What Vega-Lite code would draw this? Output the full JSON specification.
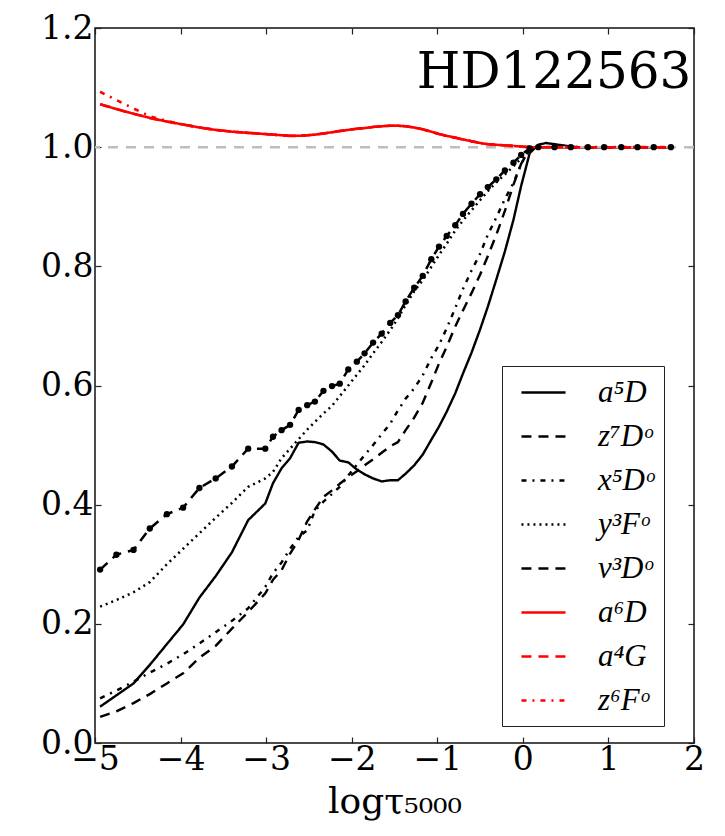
{
  "$schema": "https://vega.github.io/schema/vega-lite/v6.json",
  "width": 599,
  "height": 715,
  "autosize": {"type": "none"},
  "padding": {"left": 95, "top": 28, "right": 31, "bottom": 93},
  "background": "white",
  "config": {
    "view": {"stroke": "#111111", "strokeWidth": 1.5},
    "font": "DejaVu Serif",
    "axis": {
      "domain": false,
      "grid": false,
      "tickColor": "#222222",
      "tickWidth": 1.2,
      "tickSize": -6,
      "labelFont": "DejaVu Serif",
      "labelFontSize": 33,
      "labelColor": "black",
      "labelFlush": false,
      "labelOverlap": false,
      "titleFont": "DejaVu Serif",
      "titleFontWeight": "normal",
      "titleColor": "black"
    },
    "legend": {
      "orient": "none",
      "legendX": 407,
      "legendY": 338,
      "direction": "vertical",
      "padding": 10,
      "strokeColor": "#222222",
      "fillColor": "white",
      "cornerRadius": 0,
      "symbolType": "M-0.47,0H2.47",
      "symbolSize": 900,
      "symbolStrokeWidth": 2.6,
      "labelFont": "Liberation Serif",
      "labelFontStyle": "italic",
      "labelFontSize": 31,
      "labelColor": "black",
      "labelOffset": 53,
      "rowPadding": 12
    }
  },
  "datasets": {
    "profiles": [
      {"t": -4.94, "a5D": 0.061, "z7Do": 0.044, "x5Do": 0.075, "y3Fo": 0.229, "v3Do": 0.291, "a6D": 1.072, "a4G": 1.072, "z6Fo": 1.093},
      {"t": -4.75, "a5D": 0.080, "z7Do": 0.053, "x5Do": 0.088, "y3Fo": 0.240, "v3Do": 0.316, "a6D": 1.064, "a4G": 1.064, "z6Fo": 1.079},
      {"t": -4.55, "a5D": 0.100, "z7Do": 0.067, "x5Do": 0.103, "y3Fo": 0.253, "v3Do": 0.324, "a6D": 1.056, "a4G": 1.056, "z6Fo": 1.065},
      {"t": -4.36, "a5D": 0.131, "z7Do": 0.082, "x5Do": 0.118, "y3Fo": 0.270, "v3Do": 0.360, "a6D": 1.049, "a4G": 1.049, "z6Fo": 1.052},
      {"t": -4.16, "a5D": 0.166, "z7Do": 0.100, "x5Do": 0.133, "y3Fo": 0.300, "v3Do": 0.384, "a6D": 1.043, "a4G": 1.043, "z6Fo": 1.044},
      {"t": -3.97, "a5D": 0.199, "z7Do": 0.117, "x5Do": 0.149, "y3Fo": 0.326, "v3Do": 0.395, "a6D": 1.038, "a4G": 1.038, "z6Fo": 1.038},
      {"t": -3.78, "a5D": 0.244, "z7Do": 0.143, "x5Do": 0.167, "y3Fo": 0.352, "v3Do": 0.428, "a6D": 1.033, "a4G": 1.033, "z6Fo": 1.033},
      {"t": -3.59, "a5D": 0.280, "z7Do": 0.163, "x5Do": 0.186, "y3Fo": 0.378, "v3Do": 0.444, "a6D": 1.029, "a4G": 1.029, "z6Fo": 1.029},
      {"t": -3.40, "a5D": 0.320, "z7Do": 0.192, "x5Do": 0.205, "y3Fo": 0.403, "v3Do": 0.464, "a6D": 1.026, "a4G": 1.026, "z6Fo": 1.026},
      {"t": -3.21, "a5D": 0.374, "z7Do": 0.220, "x5Do": 0.226, "y3Fo": 0.430, "v3Do": 0.494, "a6D": 1.024, "a4G": 1.024, "z6Fo": 1.024},
      {"t": -3.01, "a5D": 0.402, "z7Do": 0.251, "x5Do": 0.262, "y3Fo": 0.444, "v3Do": 0.494, "a6D": 1.022, "a4G": 1.022, "z6Fo": 1.022},
      {"t": -2.92, "a5D": 0.436, "z7Do": 0.274, "x5Do": 0.285, "y3Fo": 0.455, "v3Do": 0.514, "a6D": 1.021, "a4G": 1.021, "z6Fo": 1.021},
      {"t": -2.82, "a5D": 0.461, "z7Do": 0.290, "x5Do": 0.303, "y3Fo": 0.478, "v3Do": 0.525, "a6D": 1.020, "a4G": 1.020, "z6Fo": 1.020},
      {"t": -2.72, "a5D": 0.478, "z7Do": 0.318, "x5Do": 0.326, "y3Fo": 0.494, "v3Do": 0.534, "a6D": 1.019, "a4G": 1.019, "z6Fo": 1.019},
      {"t": -2.62, "a5D": 0.504, "z7Do": 0.341, "x5Do": 0.346, "y3Fo": 0.510, "v3Do": 0.559, "a6D": 1.019, "a4G": 1.019, "z6Fo": 1.019},
      {"t": -2.52, "a5D": 0.506, "z7Do": 0.372, "x5Do": 0.357, "y3Fo": 0.526, "v3Do": 0.567, "a6D": 1.020, "a4G": 1.020, "z6Fo": 1.020},
      {"t": -2.43, "a5D": 0.505, "z7Do": 0.392, "x5Do": 0.390, "y3Fo": 0.539, "v3Do": 0.573, "a6D": 1.021, "a4G": 1.021, "z6Fo": 1.021},
      {"t": -2.33, "a5D": 0.501, "z7Do": 0.413, "x5Do": 0.405, "y3Fo": 0.553, "v3Do": 0.591, "a6D": 1.023, "a4G": 1.023, "z6Fo": 1.023},
      {"t": -2.23, "a5D": 0.489, "z7Do": 0.424, "x5Do": 0.418, "y3Fo": 0.566, "v3Do": 0.599, "a6D": 1.025, "a4G": 1.025, "z6Fo": 1.025},
      {"t": -2.14, "a5D": 0.474, "z7Do": 0.435, "x5Do": 0.430, "y3Fo": 0.582, "v3Do": 0.603, "a6D": 1.027, "a4G": 1.027, "z6Fo": 1.027},
      {"t": -2.04, "a5D": 0.471, "z7Do": 0.446, "x5Do": 0.449, "y3Fo": 0.600, "v3Do": 0.627, "a6D": 1.029, "a4G": 1.029, "z6Fo": 1.029},
      {"t": -1.94, "a5D": 0.459, "z7Do": 0.456, "x5Do": 0.467, "y3Fo": 0.618, "v3Do": 0.640, "a6D": 1.031, "a4G": 1.031, "z6Fo": 1.031},
      {"t": -1.85, "a5D": 0.451, "z7Do": 0.466, "x5Do": 0.483, "y3Fo": 0.634, "v3Do": 0.654, "a6D": 1.032, "a4G": 1.032, "z6Fo": 1.032},
      {"t": -1.75, "a5D": 0.444, "z7Do": 0.476, "x5Do": 0.500, "y3Fo": 0.654, "v3Do": 0.672, "a6D": 1.034, "a4G": 1.034, "z6Fo": 1.034},
      {"t": -1.65, "a5D": 0.439, "z7Do": 0.487, "x5Do": 0.518, "y3Fo": 0.673, "v3Do": 0.687, "a6D": 1.035, "a4G": 1.035, "z6Fo": 1.035},
      {"t": -1.55, "a5D": 0.441, "z7Do": 0.498, "x5Do": 0.536, "y3Fo": 0.693, "v3Do": 0.705, "a6D": 1.036, "a4G": 1.036, "z6Fo": 1.036},
      {"t": -1.46, "a5D": 0.441, "z7Do": 0.505, "x5Do": 0.558, "y3Fo": 0.713, "v3Do": 0.718, "a6D": 1.036, "a4G": 1.036, "z6Fo": 1.036},
      {"t": -1.37, "a5D": 0.452, "z7Do": 0.525, "x5Do": 0.578, "y3Fo": 0.735, "v3Do": 0.741, "a6D": 1.035, "a4G": 1.035, "z6Fo": 1.035},
      {"t": -1.27, "a5D": 0.466, "z7Do": 0.546, "x5Do": 0.595, "y3Fo": 0.758, "v3Do": 0.764, "a6D": 1.033, "a4G": 1.033, "z6Fo": 1.033},
      {"t": -1.17, "a5D": 0.484, "z7Do": 0.571, "x5Do": 0.617, "y3Fo": 0.777, "v3Do": 0.784, "a6D": 1.030, "a4G": 1.030, "z6Fo": 1.030},
      {"t": -1.07, "a5D": 0.509, "z7Do": 0.605, "x5Do": 0.646, "y3Fo": 0.799, "v3Do": 0.812, "a6D": 1.026, "a4G": 1.026, "z6Fo": 1.026},
      {"t": -0.98, "a5D": 0.531, "z7Do": 0.637, "x5Do": 0.668, "y3Fo": 0.819, "v3Do": 0.833, "a6D": 1.022, "a4G": 1.022, "z6Fo": 1.022},
      {"t": -0.89, "a5D": 0.556, "z7Do": 0.665, "x5Do": 0.696, "y3Fo": 0.838, "v3Do": 0.851, "a6D": 1.019, "a4G": 1.019, "z6Fo": 1.019},
      {"t": -0.79, "a5D": 0.587, "z7Do": 0.699, "x5Do": 0.730, "y3Fo": 0.860, "v3Do": 0.869, "a6D": 1.016, "a4G": 1.016, "z6Fo": 1.016},
      {"t": -0.70, "a5D": 0.620, "z7Do": 0.726, "x5Do": 0.762, "y3Fo": 0.877, "v3Do": 0.888, "a6D": 1.013, "a4G": 1.013, "z6Fo": 1.013},
      {"t": -0.60, "a5D": 0.655, "z7Do": 0.755, "x5Do": 0.793, "y3Fo": 0.894, "v3Do": 0.905, "a6D": 1.010, "a4G": 1.010, "z6Fo": 1.010},
      {"t": -0.50, "a5D": 0.694, "z7Do": 0.786, "x5Do": 0.821, "y3Fo": 0.911, "v3Do": 0.921, "a6D": 1.007, "a4G": 1.007, "z6Fo": 1.007},
      {"t": -0.41, "a5D": 0.732, "z7Do": 0.817, "x5Do": 0.853, "y3Fo": 0.926, "v3Do": 0.933, "a6D": 1.005, "a4G": 1.005, "z6Fo": 1.005},
      {"t": -0.31, "a5D": 0.778, "z7Do": 0.853, "x5Do": 0.882, "y3Fo": 0.941, "v3Do": 0.946, "a6D": 1.004, "a4G": 1.004, "z6Fo": 1.004},
      {"t": -0.21, "a5D": 0.825, "z7Do": 0.893, "x5Do": 0.913, "y3Fo": 0.954, "v3Do": 0.961, "a6D": 1.003, "a4G": 1.003, "z6Fo": 1.003},
      {"t": -0.11, "a5D": 0.878, "z7Do": 0.937, "x5Do": 0.940, "y3Fo": 0.968, "v3Do": 0.974, "a6D": 1.002, "a4G": 1.002, "z6Fo": 1.002},
      {"t": -0.02, "a5D": 0.935, "z7Do": 0.972, "x5Do": 0.972, "y3Fo": 0.981, "v3Do": 0.987, "a6D": 1.001, "a4G": 1.001, "z6Fo": 1.001},
      {"t": 0.08, "a5D": 0.990, "z7Do": 0.997, "x5Do": 0.997, "y3Fo": 0.995, "v3Do": 0.998, "a6D": 1.000, "a4G": 1.000, "z6Fo": 1.000},
      {"t": 0.18, "a5D": 1.004, "z7Do": 1.000, "x5Do": 1.000, "y3Fo": 1.000, "v3Do": 1.000, "a6D": 1.000, "a4G": 1.000, "z6Fo": 1.000},
      {"t": 0.27, "a5D": 1.007, "z7Do": 1.000, "x5Do": 1.000, "y3Fo": 1.000, "v3Do": 1.000, "a6D": 1.000, "a4G": 1.000, "z6Fo": 1.000},
      {"t": 0.37, "a5D": 1.005, "z7Do": 1.000, "x5Do": 1.000, "y3Fo": 1.000, "v3Do": 1.000, "a6D": 1.000, "a4G": 1.000, "z6Fo": 1.000},
      {"t": 0.47, "a5D": 1.003, "z7Do": 1.000, "x5Do": 1.000, "y3Fo": 1.000, "v3Do": 1.000, "a6D": 1.000, "a4G": 1.000, "z6Fo": 1.000},
      {"t": 0.56, "a5D": 1.001, "z7Do": 1.000, "x5Do": 1.000, "y3Fo": 1.000, "v3Do": 1.000, "a6D": 1.000, "a4G": 1.000, "z6Fo": 1.000},
      {"t": 0.66, "a5D": 1.000, "z7Do": 1.000, "x5Do": 1.000, "y3Fo": 1.000, "v3Do": 1.000, "a6D": 1.000, "a4G": 1.000, "z6Fo": 1.000},
      {"t": 0.76, "a5D": 1.000, "z7Do": 1.000, "x5Do": 1.000, "y3Fo": 1.000, "v3Do": 1.000, "a6D": 1.000, "a4G": 1.000, "z6Fo": 1.000},
      {"t": 0.86, "a5D": 1.000, "z7Do": 1.000, "x5Do": 1.000, "y3Fo": 1.000, "v3Do": 1.000, "a6D": 1.000, "a4G": 1.000, "z6Fo": 1.000},
      {"t": 0.95, "a5D": 1.000, "z7Do": 1.000, "x5Do": 1.000, "y3Fo": 1.000, "v3Do": 1.000, "a6D": 1.000, "a4G": 1.000, "z6Fo": 1.000},
      {"t": 1.05, "a5D": 1.000, "z7Do": 1.000, "x5Do": 1.000, "y3Fo": 1.000, "v3Do": 1.000, "a6D": 1.000, "a4G": 1.000, "z6Fo": 1.000},
      {"t": 1.15, "a5D": 1.000, "z7Do": 1.000, "x5Do": 1.000, "y3Fo": 1.000, "v3Do": 1.000, "a6D": 1.000, "a4G": 1.000, "z6Fo": 1.000},
      {"t": 1.24, "a5D": 1.000, "z7Do": 1.000, "x5Do": 1.000, "y3Fo": 1.000, "v3Do": 1.000, "a6D": 1.000, "a4G": 1.000, "z6Fo": 1.000},
      {"t": 1.34, "a5D": 1.000, "z7Do": 1.000, "x5Do": 1.000, "y3Fo": 1.000, "v3Do": 1.000, "a6D": 1.000, "a4G": 1.000, "z6Fo": 1.000},
      {"t": 1.44, "a5D": 1.000, "z7Do": 1.000, "x5Do": 1.000, "y3Fo": 1.000, "v3Do": 1.000, "a6D": 1.000, "a4G": 1.000, "z6Fo": 1.000},
      {"t": 1.53, "a5D": 1.000, "z7Do": 1.000, "x5Do": 1.000, "y3Fo": 1.000, "v3Do": 1.000, "a6D": 1.000, "a4G": 1.000, "z6Fo": 1.000},
      {"t": 1.63, "a5D": 1.000, "z7Do": 1.000, "x5Do": 1.000, "y3Fo": 1.000, "v3Do": 1.000, "a6D": 1.000, "a4G": 1.000, "z6Fo": 1.000},
      {"t": 1.73, "a5D": 1.000, "z7Do": 1.000, "x5Do": 1.000, "y3Fo": 1.000, "v3Do": 1.000, "a6D": 1.000, "a4G": 1.000, "z6Fo": 1.000}
    ],
    "reference": [{"level": 1.0}],
    "star": [{"t": 1.97, "v": 1.1, "name": "HD122563"}]
  },
  "layer": [
    {
      "data": {"name": "profiles"},
      "transform": [
        {"fold": ["a5D", "z7Do", "x5Do", "y3Fo", "v3Do", "a6D"], "as": ["series", "ratio"]}
      ],
      "mark": {"type": "line", "strokeCap": "butt", "strokeJoin": "round"},
      "encoding": {
        "x": {
          "field": "t", "type": "quantitative",
          "scale": {"domain": [-5, 2], "nice": false, "zero": false},
          "axis": {
            "orient": "bottom",
            "values": [-5, -4, -3, -2, -1, 0, 1, 2],
            "format": "d",
            "labelPadding": 6,
            "title": "logτ₅₀₀₀",
            "titleFontSize": 36,
            "titlePadding": 8
          }
        },
        "y": {
          "field": "ratio", "type": "quantitative",
          "scale": {"domain": [0, 1.2], "nice": false, "zero": false},
          "axis": {
            "orient": "left",
            "values": [0, 0.2, 0.4, 0.6, 0.8, 1.0, 1.2],
            "format": ".1f",
            "labelPadding": 8,
            "title": null
          }
        },
        "color": {
          "field": "series", "type": "nominal",
          "scale": {
            "domain": ["a5D", "z7Do", "x5Do", "y3Fo", "v3Do", "a6D", "a4G", "z6Fo"],
            "range": ["black", "black", "black", "black", "black", "#ff0000", "#ff0000", "#ff0000"]
          },
          "legend": {
            "title": null,
            "labelExpr": "{'a5D': 'a⁵D', 'z7Do': 'z⁷Dᵒ', 'x5Do': 'x⁵Dᵒ', 'y3Fo': 'y³Fᵒ', 'v3Do': 'v³Dᵒ', 'a6D': 'a⁶D', 'a4G': 'a⁴G', 'z6Fo': 'z⁶Fᵒ'}[datum.label]"
          }
        },
        "strokeDash": {
          "field": "series", "type": "nominal",
          "scale": {
            "domain": ["a5D", "z7Do", "x5Do", "y3Fo", "v3Do", "a6D", "a4G", "z6Fo"],
            "range": [[1, 0], [10, 7], [5, 6, 2, 6], [2, 4], [10, 7], [1, 0], [10, 7], [5, 6, 2, 6]]
          },
          "legend": {
            "title": null,
            "labelExpr": "{'a5D': 'a⁵D', 'z7Do': 'z⁷Dᵒ', 'x5Do': 'x⁵Dᵒ', 'y3Fo': 'y³Fᵒ', 'v3Do': 'v³Dᵒ', 'a6D': 'a⁶D', 'a4G': 'a⁴G', 'z6Fo': 'z⁶Fᵒ'}[datum.label]"
          }
        },
        "strokeWidth": {
          "field": "series", "type": "nominal",
          "scale": {
            "domain": ["a5D", "z7Do", "x5Do", "y3Fo", "v3Do", "a6D", "a4G", "z6Fo"],
            "range": [2.4, 2.6, 2.6, 2.4, 2.6, 3, 3, 3]
          },
          "legend": null
        },
        "order": {"field": "t", "type": "quantitative"}
      }
    },
    {
      "data": {"name": "reference"},
      "mark": {"type": "rule", "color": "#bdbdbd", "strokeWidth": 2.5, "strokeDash": [10, 8]},
      "encoding": {
        "y": {"field": "level", "type": "quantitative", "scale": {"domain": [0, 1.2], "nice": false, "zero": false}, "axis": null}
      }
    },
    {
      "data": {"name": "profiles"},
      "transform": [
        {"fold": ["a4G", "z6Fo"], "as": ["series", "ratio"]}
      ],
      "mark": {"type": "line", "strokeCap": "butt", "strokeJoin": "round"},
      "encoding": {
        "x": {"field": "t", "type": "quantitative", "scale": {"domain": [-5, 2], "nice": false, "zero": false}, "axis": null},
        "y": {"field": "ratio", "type": "quantitative", "scale": {"domain": [0, 1.2], "nice": false, "zero": false}, "axis": null},
        "color": {
          "field": "series", "type": "nominal",
          "scale": {
            "domain": ["a5D", "z7Do", "x5Do", "y3Fo", "v3Do", "a6D", "a4G", "z6Fo"],
            "range": ["black", "black", "black", "black", "black", "#ff0000", "#ff0000", "#ff0000"]
          },
          "legend": {
            "title": null,
            "labelExpr": "{'a5D': 'a⁵D', 'z7Do': 'z⁷Dᵒ', 'x5Do': 'x⁵Dᵒ', 'y3Fo': 'y³Fᵒ', 'v3Do': 'v³Dᵒ', 'a6D': 'a⁶D', 'a4G': 'a⁴G', 'z6Fo': 'z⁶Fᵒ'}[datum.label]"
          }
        },
        "strokeDash": {
          "field": "series", "type": "nominal",
          "scale": {
            "domain": ["a5D", "z7Do", "x5Do", "y3Fo", "v3Do", "a6D", "a4G", "z6Fo"],
            "range": [[1, 0], [10, 7], [5, 6, 2, 6], [2, 4], [10, 7], [1, 0], [10, 7], [5, 6, 2, 6]]
          },
          "legend": {
            "title": null,
            "labelExpr": "{'a5D': 'a⁵D', 'z7Do': 'z⁷Dᵒ', 'x5Do': 'x⁵Dᵒ', 'y3Fo': 'y³Fᵒ', 'v3Do': 'v³Dᵒ', 'a6D': 'a⁶D', 'a4G': 'a⁴G', 'z6Fo': 'z⁶Fᵒ'}[datum.label]"
          }
        },
        "strokeWidth": {
          "field": "series", "type": "nominal",
          "scale": {
            "domain": ["a5D", "z7Do", "x5Do", "y3Fo", "v3Do", "a6D", "a4G", "z6Fo"],
            "range": [2.4, 2.6, 2.6, 2.4, 2.6, 3, 3, 3]
          },
          "legend": null
        },
        "order": {"field": "t", "type": "quantitative"}
      }
    },
    {
      "data": {"name": "profiles"},
      "transform": [
        {"filter": "indexof([0.27, 0.47, 0.66, 0.86, 1.05, 1.24, 1.44, 1.63], datum.t) < 0"}
      ],
      "mark": {"type": "point", "filled": true, "color": "black", "opacity": 1, "size": 40},
      "encoding": {
        "x": {
          "field": "t", "type": "quantitative",
          "scale": {"domain": [-5, 2], "nice": false, "zero": false},
          "axis": {"orient": "top", "values": [-5, -4, -3, -2, -1, 0, 1, 2], "labels": false, "title": null}
        },
        "y": {
          "field": "v3Do", "type": "quantitative",
          "scale": {"domain": [0, 1.2], "nice": false, "zero": false},
          "axis": {"orient": "right", "values": [0, 0.2, 0.4, 0.6, 0.8, 1.0, 1.2], "labels": false, "title": null}
        }
      }
    },
    {
      "data": {"name": "star"},
      "mark": {"type": "text", "align": "right", "baseline": "alphabetic", "font": "DejaVu Serif", "fontSize": 50, "color": "black"},
      "encoding": {
        "x": {"field": "t", "type": "quantitative", "scale": {"domain": [-5, 2], "nice": false, "zero": false}, "axis": null},
        "y": {"field": "v", "type": "quantitative", "scale": {"domain": [0, 1.2], "nice": false, "zero": false}, "axis": null},
        "text": {"field": "name"}
      }
    }
  ],
  "resolve": {"axis": {"x": "independent", "y": "independent"}}
}
